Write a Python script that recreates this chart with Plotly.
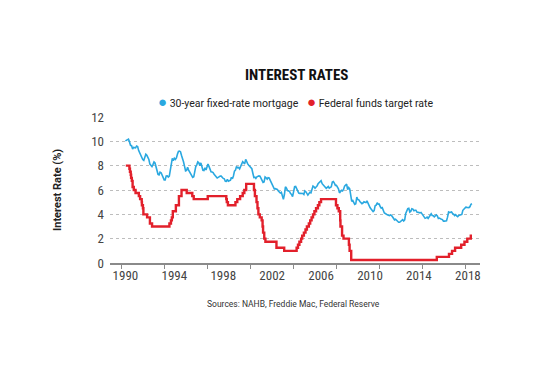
import pandas as pd
import plotly.graph_objects as go

# 30-year fixed-rate mortgage, monthly averages Jul 1990 - Nov 2018 (%)
mortgage_start = "1990-07-01"
mortgage = [
    10.04, 10.10, 10.18, 10.18, 9.95, 9.67,
    9.64, 9.37, 9.50, 9.49, 9.47, 9.62, 9.58, 9.24, 9.01, 8.86, 8.71, 8.50,
    8.43, 8.76, 8.94, 8.85, 8.67, 8.51, 8.13, 7.98, 7.92, 8.09, 8.31, 8.22,
    7.91, 7.47, 7.29, 7.25, 7.47, 7.42, 7.21, 6.99, 6.83, 6.83, 7.16, 7.17,
    7.06, 7.15, 7.68, 8.32, 8.60, 8.40, 8.61, 8.51, 8.64, 8.93, 9.17, 9.20,
    9.15, 8.83, 8.46, 8.32, 7.96, 7.57, 7.61, 7.86, 7.64, 7.48, 7.38, 7.20,
    7.03, 7.08, 7.62, 7.93, 8.07, 8.32, 8.25, 8.00, 8.23, 7.92, 7.62, 7.60,
    7.82, 7.65, 7.90, 8.14, 7.94, 7.69, 7.50, 7.48, 7.43, 7.29, 7.21, 7.10,
    6.99, 7.04, 7.13, 7.14, 7.14, 7.00, 6.95, 6.92, 6.72, 6.71, 6.87, 6.72,
    6.79, 6.81, 7.04, 6.92, 7.15, 7.55, 7.63, 7.94, 7.82, 7.85, 7.74, 7.91,
    8.21, 8.33, 8.24, 8.15, 8.52, 8.29, 8.15, 8.03, 7.91, 7.80, 7.75, 7.38,
    7.03, 7.05, 6.95, 7.08, 7.15, 7.16, 7.13, 6.95, 6.82, 6.62, 6.66, 7.07,
    7.00, 6.89, 7.01, 6.99, 6.81, 6.65, 6.49, 6.29, 6.09, 6.11, 6.07, 6.05,
    5.92, 5.84, 5.75, 5.81, 5.48, 5.23, 5.63, 6.26, 6.15, 5.95, 5.93, 5.88,
    5.71, 5.64, 5.45, 5.83, 6.27, 6.29, 6.06, 5.87, 5.75, 5.72, 5.73, 5.75,
    5.71, 5.63, 5.93, 5.86, 5.72, 5.58, 5.70, 5.82, 5.77, 6.07, 6.33, 6.27,
    6.15, 6.25, 6.32, 6.51, 6.60, 6.68, 6.76, 6.52, 6.40, 6.36, 6.24, 6.14,
    6.22, 6.29, 6.16, 6.18, 6.26, 6.66, 6.70, 6.57, 6.38, 6.38, 6.21, 6.10,
    5.76, 5.92, 5.97, 5.92, 6.04, 6.32, 6.43, 6.48, 6.04, 6.20, 6.09, 5.33,
    5.06, 5.13, 5.00, 4.81, 4.86, 5.42, 5.22, 5.19, 5.06, 4.95, 4.88, 4.93,
    5.03, 4.99, 4.97, 5.10, 4.89, 4.74, 4.56, 4.43, 4.35, 4.23, 4.30, 4.71,
    4.76, 4.95, 4.84, 4.84, 4.64, 4.51, 4.55, 4.27, 4.11, 4.07, 3.99, 3.96,
    3.92, 3.89, 3.95, 3.91, 3.80, 3.68, 3.55, 3.60, 3.50, 3.38, 3.35, 3.35,
    3.41, 3.53, 3.57, 3.45, 3.54, 4.07, 4.37, 4.46, 4.49, 4.19, 4.26, 4.46,
    4.43, 4.30, 4.34, 4.34, 4.19, 4.16, 4.13, 4.12, 4.16, 4.04, 4.00, 3.86,
    3.67, 3.71, 3.77, 3.67, 3.84, 3.98, 4.05, 3.91, 3.89, 3.80, 3.94, 3.96,
    3.87, 3.66, 3.69, 3.61, 3.60, 3.57, 3.44, 3.44, 3.46, 3.47, 3.77, 4.20,
    4.15, 4.17, 4.20, 4.05, 4.01, 3.90, 3.97, 3.88, 3.81, 3.90, 3.92, 3.95,
    3.99, 4.33, 4.44, 4.47, 4.59, 4.57, 4.53, 4.55, 4.63, 4.83, 4.87,
]
mortgage_dates = pd.date_range(mortgage_start, periods=len(mortgage), freq="MS")

# Federal funds target rate: date of change and new level (%)
fed_dates = [
    "1990-07-13", "1990-10-29", "1990-11-14", "1990-12-07", "1990-12-18",
    "1991-01-09", "1991-02-01", "1991-03-08", "1991-04-30", "1991-08-06",
    "1991-09-13", "1991-10-31", "1991-11-06", "1991-12-06", "1991-12-20",
    "1992-04-09", "1992-07-02", "1992-09-04",
    "1994-02-04", "1994-03-22", "1994-04-18", "1994-05-17", "1994-08-16", "1994-11-15",
    "1995-02-01", "1995-07-06", "1995-12-19", "1996-01-31", "1997-03-25",
    "1998-09-29", "1998-10-15", "1998-11-17",
    "1999-06-30", "1999-08-24", "1999-11-16",
    "2000-02-02", "2000-03-21", "2000-05-16",
    "2001-01-03", "2001-01-31", "2001-03-20", "2001-04-18", "2001-05-15",
    "2001-06-27", "2001-08-21", "2001-09-17", "2001-10-02", "2001-11-06", "2001-12-11",
    "2002-11-06", "2003-06-25",
    "2004-06-30", "2004-08-10", "2004-09-21", "2004-11-10", "2004-12-14",
    "2005-02-02", "2005-03-22", "2005-05-03", "2005-06-30", "2005-08-09",
    "2005-09-20", "2005-11-01", "2005-12-13",
    "2006-01-31", "2006-03-28", "2006-05-10", "2006-06-29",
    "2007-09-18", "2007-10-31", "2007-12-11",
    "2008-01-22", "2008-01-30", "2008-03-18", "2008-04-30", "2008-10-08",
    "2008-10-29", "2008-12-16",
    "2015-12-16", "2016-12-14", "2017-03-15", "2017-06-14", "2017-12-13",
    "2018-03-21", "2018-06-13", "2018-09-26", "2018-11-01",
]
fed_rates = [
    8.00, 7.75, 7.50, 7.25, 7.00,
    6.75, 6.25, 6.00, 5.75, 5.50,
    5.25, 5.00, 4.75, 4.50, 4.00,
    3.75, 3.25, 3.00,
    3.25, 3.50, 3.75, 4.25, 4.75, 5.50,
    6.00, 5.75, 5.50, 5.25, 5.50,
    5.25, 5.00, 4.75,
    5.00, 5.25, 5.50,
    5.75, 6.00, 6.50,
    6.00, 5.50, 5.00, 4.50, 4.00,
    3.75, 3.50, 3.00, 2.50, 2.00, 1.75,
    1.25, 1.00,
    1.25, 1.50, 1.75, 2.00, 2.25,
    2.50, 2.75, 3.00, 3.25, 3.50,
    3.75, 4.00, 4.25,
    4.50, 4.75, 5.00, 5.25,
    4.75, 4.50, 4.25,
    3.50, 3.00, 2.25, 2.00, 1.50,
    1.00, 0.25,
    0.50, 0.75, 1.00, 1.25, 1.50,
    1.75, 2.00, 2.25, 2.25,
]

tick_years = [1990, 1994, 1998, 2002, 2006, 2010, 2014, 2018]
y_ticks = [0, 2, 4, 6, 8, 10, 12]

BLUE = "#2AA8E0"
RED = "#E2202B"
NARROW = "Liberation Sans Narrow, Roboto Condensed, Roboto, sans-serif"

# page is rendered with an 8px body offset
OFF = 8
L, T, W, H = 110 - OFF, 117 - OFF, 370, 146

fig = go.Figure()
fig.add_trace(go.Scatter(
    x=mortgage_dates, y=mortgage, mode="lines",
    line=dict(color=BLUE, width=1.6), name="30-year fixed-rate mortgage",
    showlegend=False,
))
fig.add_trace(go.Scatter(
    x=pd.to_datetime(fed_dates), y=fed_rates, mode="lines",
    line=dict(color=RED, width=2.4, shape="hv"), name="Federal funds target rate",
    showlegend=False,
))

minor_ticks = pd.date_range("1990-02-21", periods=9, freq="1287D")


def px(xp):
    return (xp - 110) / W


def py(yp):
    return (263 - yp) / H


fig.update_layout(
    width=541, height=367,
    margin=dict(l=L, r=541 - L - W, t=T, b=367 - T - H),
    paper_bgcolor="white", plot_bgcolor="white",
    xaxis=dict(
        type="date",
        range=["1989-03-28", "2019-06-28"],
        tickmode="array",
        tickvals=[f"{y}-07-01" for y in tick_years],
        ticktext=[str(y) for y in tick_years],
        ticks="", showgrid=False, zeroline=False,
        showline=True, linecolor="#8a8a8a", linewidth=1.5,
        tickfont=dict(family=NARROW, size=13, color="#444"),
        minor=dict(tickmode="array", tickvals=list(minor_ticks), ticks="outside",
                   ticklen=4, tickwidth=1, tickcolor="#8a8a8a", showgrid=False),
        fixedrange=True,
    ),
    yaxis=dict(
        range=[0, 12], tickmode="array", tickvals=y_ticks,
        showgrid=True, gridcolor="#bdbdbd", griddash="dot", gridwidth=1,
        zeroline=False, showline=False, ticks="",
        tickfont=dict(family=NARROW, size=13, color="#444"),
        ticklabelstandoff=5,
    ),
    annotations=[
        dict(text="<b>INTEREST RATES</b>", xref="paper", yref="paper",
             x=px(296), y=py(75), xanchor="center", yanchor="middle",
             showarrow=False,
             font=dict(family=NARROW, size=15, color="#111")),
        dict(text=f'<span style="color:{BLUE};font-size:15px">●</span> 30-year fixed-rate mortgage',
             xref="paper", yref="paper", x=px(156), y=py(102.5),
             xanchor="left", yanchor="middle", showarrow=False,
             font=dict(family="Roboto, sans-serif", size=10.5, color="#222")),
        dict(text=f'<span style="color:{RED};font-size:15px">●</span> Federal funds target rate',
             xref="paper", yref="paper", x=px(305), y=py(102.5),
             xanchor="left", yanchor="middle", showarrow=False,
             font=dict(family="Roboto, sans-serif", size=10.5, color="#222")),
        dict(text="<b>Interest Rate (%)</b>", xref="paper", yref="paper",
             x=px(57), y=py(190), xanchor="center", yanchor="middle",
             textangle=-90, showarrow=False,
             font=dict(family="Roboto, sans-serif", size=11, color="#222")),
        dict(text="Sources: NAHB, Freddie Mac, Federal Reserve", xref="paper", yref="paper",
             x=px(293), y=py(303.5), xanchor="center", yanchor="middle",
             showarrow=False,
             font=dict(family="Roboto, sans-serif", size=8.5, color="#333")),
    ],
)

fig.write_html("out.html")
